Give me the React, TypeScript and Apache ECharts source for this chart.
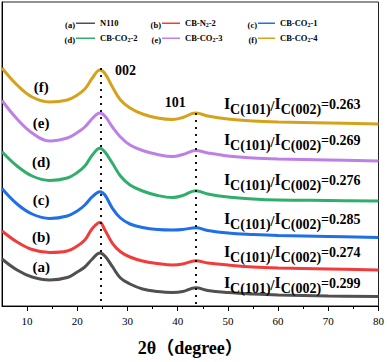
import React, { useEffect, useRef } from 'react';
import * as echarts from 'echarts';

// ---- data ----
const twoTheta = [5, 8, 11, 14.5, 18, 20, 21.5, 23, 24.5, 25.5, 27, 28.6, 30.5, 33, 36, 39, 41, 43.6, 46, 50, 55, 60, 70, 80];
const intensityA = [47, 36, 29, 26, 28.5, 34, 39, 47, 53, 50, 39.3, 28, 22, 17, 14.5, 13.5, 14.5, 18.3, 15.5, 13.5, 12, 11, 10, 9.5];
const intensityB = [75, 64, 56.5, 53.5, 55, 60, 66, 77.5, 83.5, 76, 62.7, 54.3, 49, 45, 42.5, 41, 42, 45.3, 43, 41, 39, 38, 37, 36];
const intensityC = [117.5, 102, 92, 87.5, 90, 95, 101, 109.3, 114.3, 111, 97.7, 88, 82, 78.5, 76.5, 76, 76.5, 78.3, 75.5, 73, 71.5, 70.5, 69.5, 68.5];
const intensityD = [154.3, 140, 130, 125.5, 128, 133.5, 140, 151, 157.7, 154, 142.7, 130, 121, 115, 110.5, 108.5, 110.5, 115.3, 112, 109, 107, 106, 105.5, 105];
const intensityE = [205.5, 187, 173, 165, 168, 173.5, 179, 187.5, 193, 190, 179, 169, 161, 155.5, 151.5, 149.5, 151.5, 155.5, 153, 150, 148, 147, 146, 145];
const intensityF = [238, 221, 209, 204, 206, 211, 217, 228, 236, 232.5, 219, 206, 198, 192, 188, 186.5, 188.5, 193, 190, 187, 185, 184, 183, 182];
const seriesNames = ['N110', 'CB-N2-2', 'CB-CO2-1', 'CB-CO2-2', 'CB-CO2-3', 'CB-CO2-4'];
const seriesTags = ['(a)', '(b)', '(c)', '(d)', '(e)', '(f)'];
const ratioValues = ['0.299', '0.274', '0.285', '0.276', '0.269', '0.263'];
const xTickValues = [10, 20, 30, 40, 50, 60, 70, 80];
const xMinorTickValues = [15, 25, 35, 45, 55, 65, 75];
const peakPositions = [24.6, 43.6];
const peakLabels = ['002', '101'];

// ---- layout / style ----
const allIntensities = [intensityA, intensityB, intensityC, intensityD, intensityE, intensityF];
const colors = ['#505050', '#f23c3c', '#1f6fe6', '#2fae6c', '#bd80e6', '#d6a21c'];
const FONT = '"Liberation Serif", "Times New Roman", "Noto Sans CJK SC", serif';
const tagAnchorX = 12.8;
const tagAnchorY = [39.3, 69.3, 106, 143.7, 182.7, 218.7];
const ratioAnchorX = 49.2;
const ratioAnchorY = [20.5, 51.5, 84.5, 123.5, 163.5, 199.5];
const peakLineTop = [238, 193];
const peakLabelAnchors = [[29.6, 236], [39.5, 203.5]];
const legendLeft = [76, 162, 258];
const legendItemWidth = [19, 18, 17];
const legendTagRight = [75, 161, 257];
const legendRowY = [25, 40];

const boldText = { fontWeight: 'bold', fontFamily: FONT, color: '#000' };

export default function App() {
  const ref = useRef<HTMLDivElement>(null);
  useEffect(() => {
    if (!ref.current) return;
    const chart = echarts.init(ref.current, undefined, { renderer: 'svg' });

    const series: any[] = allIntensities.map((vals, i) => {
      const s: any = {
        type: 'line',
        name: seriesNames[i],
        data: twoTheta.map((x, j) => [x, vals[j]]),
        showSymbol: false,
        smooth: 0.4,
        color: colors[i],
        lineStyle: { width: 3, color: colors[i] },
        z: 3,
        markPoint: {
          symbol: 'circle',
          symbolSize: 0,
          silent: true,
          data: [
            {
              coord: [tagAnchorX, tagAnchorY[i]],
              label: { show: true, position: 'inside', formatter: seriesTags[i], fontSize: 15, ...boldText },
            },
            {
              coord: [ratioAnchorX, ratioAnchorY[i]],
              label: {
                show: true,
                position: 'right',
                distance: 0,
                formatter: `{i|I}{s|C(101)}{sl|/}{i|I}{s|C(002)}{v|=${ratioValues[i]}}`,
                color: '#000',
                rich: {
                  i: { fontSize: 16, ...boldText, padding: [0, 0, 6, 0] },
                  s: { fontSize: 14, ...boldText, padding: [6, 0, 0, 0] },
                  sl: { fontSize: 14, ...boldText },
                  v: { fontSize: 14, ...boldText, padding: [0, 0, 5, 0] },
                },
              },
            },
          ],
        },
      };
      if (i === 5) {
        s.markLine = {
          silent: true,
          symbol: 'none',
          label: { show: false },
          lineStyle: { type: [2, 5], color: '#111', width: 2 },
          data: peakPositions.map((x, k) => [{ coord: [x, peakLineTop[k]] }, { coord: [x, 0] }]),
        };
        s.markPoint.data.push(
          ...peakLabels.map((t, k) => ({
            coord: peakLabelAnchors[k],
            label: { show: true, position: 'inside', formatter: t, fontSize: 14, ...boldText },
          }))
        );
      }
      return s;
    });

    const legends = seriesNames.map((name, i) => {
      const col = i % 3;
      const row = Math.floor(i / 3);
      return {
        data: [name],
        left: legendLeft[col],
        top: legendRowY[row] - 6,
        padding: 0,
        icon: 'rect',
        itemWidth: legendItemWidth[col],
        itemHeight: 1.5,
        selectedMode: false,
        formatter: (n: string) => n.replace(/([NO])2/, '$1{s|2}'),
        textStyle: {
          fontSize: 8.5,
          ...boldText,
          rich: {
            s: { fontSize: 6, ...boldText, padding: [4, 0, 0, 0] },
          },
        },
      };
    });

    const graphic = seriesTags.map((t, i) => {
      const col = i % 3;
      const row = Math.floor(i / 3);
      return {
        type: 'text',
        x: legendTagRight[col],
        y: legendRowY[row],
        style: {
          text: t,
          align: 'right',
          verticalAlign: 'middle',
          font: `bold 8.5px ${FONT}`,
          fill: '#000',
        },
      };
    });

    chart.setOption({
      animation: false,
      backgroundColor: '#fff',
      grid: { left: 2, right: 8, top: 2, bottom: 56, show: true, borderColor: '#222', borderWidth: 1 },
      legend: legends,
      graphic,
      xAxis: [
        {
          type: 'value',
          min: 5,
          max: 80,
          axisLine: { show: true, lineStyle: { color: '#000', width: 1 } },
          axisTick: { show: true, length: 5, inside: false, customValues: xTickValues, lineStyle: { color: '#000' } },
          axisLabel: { customValues: xTickValues, fontSize: 11, color: '#000', margin: 9, fontFamily: FONT },
          splitLine: { show: false },
          name: '2θ（degree）',
          nameLocation: 'middle',
          nameGap: 33,
          nameTextStyle: { fontSize: 18, ...boldText },
        },
        {
          type: 'value',
          min: 5,
          max: 80,
          position: 'bottom',
          axisLine: { show: false },
          axisTick: { show: true, length: 3, inside: false, customValues: xMinorTickValues, lineStyle: { color: '#000' } },
          axisLabel: { show: false },
          splitLine: { show: false },
        },
      ],
      yAxis: {
        type: 'value',
        min: 0,
        max: 304,
        axisLine: { show: true, lineStyle: { color: '#000', width: 1 } },
        axisTick: { show: false },
        axisLabel: { show: false },
        splitLine: { show: false },
      },
      series,
    });
    return () => chart.dispose();
  }, []);
  return (
    <div
      ref={ref}
      style={{ position: 'absolute', left: 0, top: 0, width: 387, height: 362, background: '#fff' }}
    />
  );
}
